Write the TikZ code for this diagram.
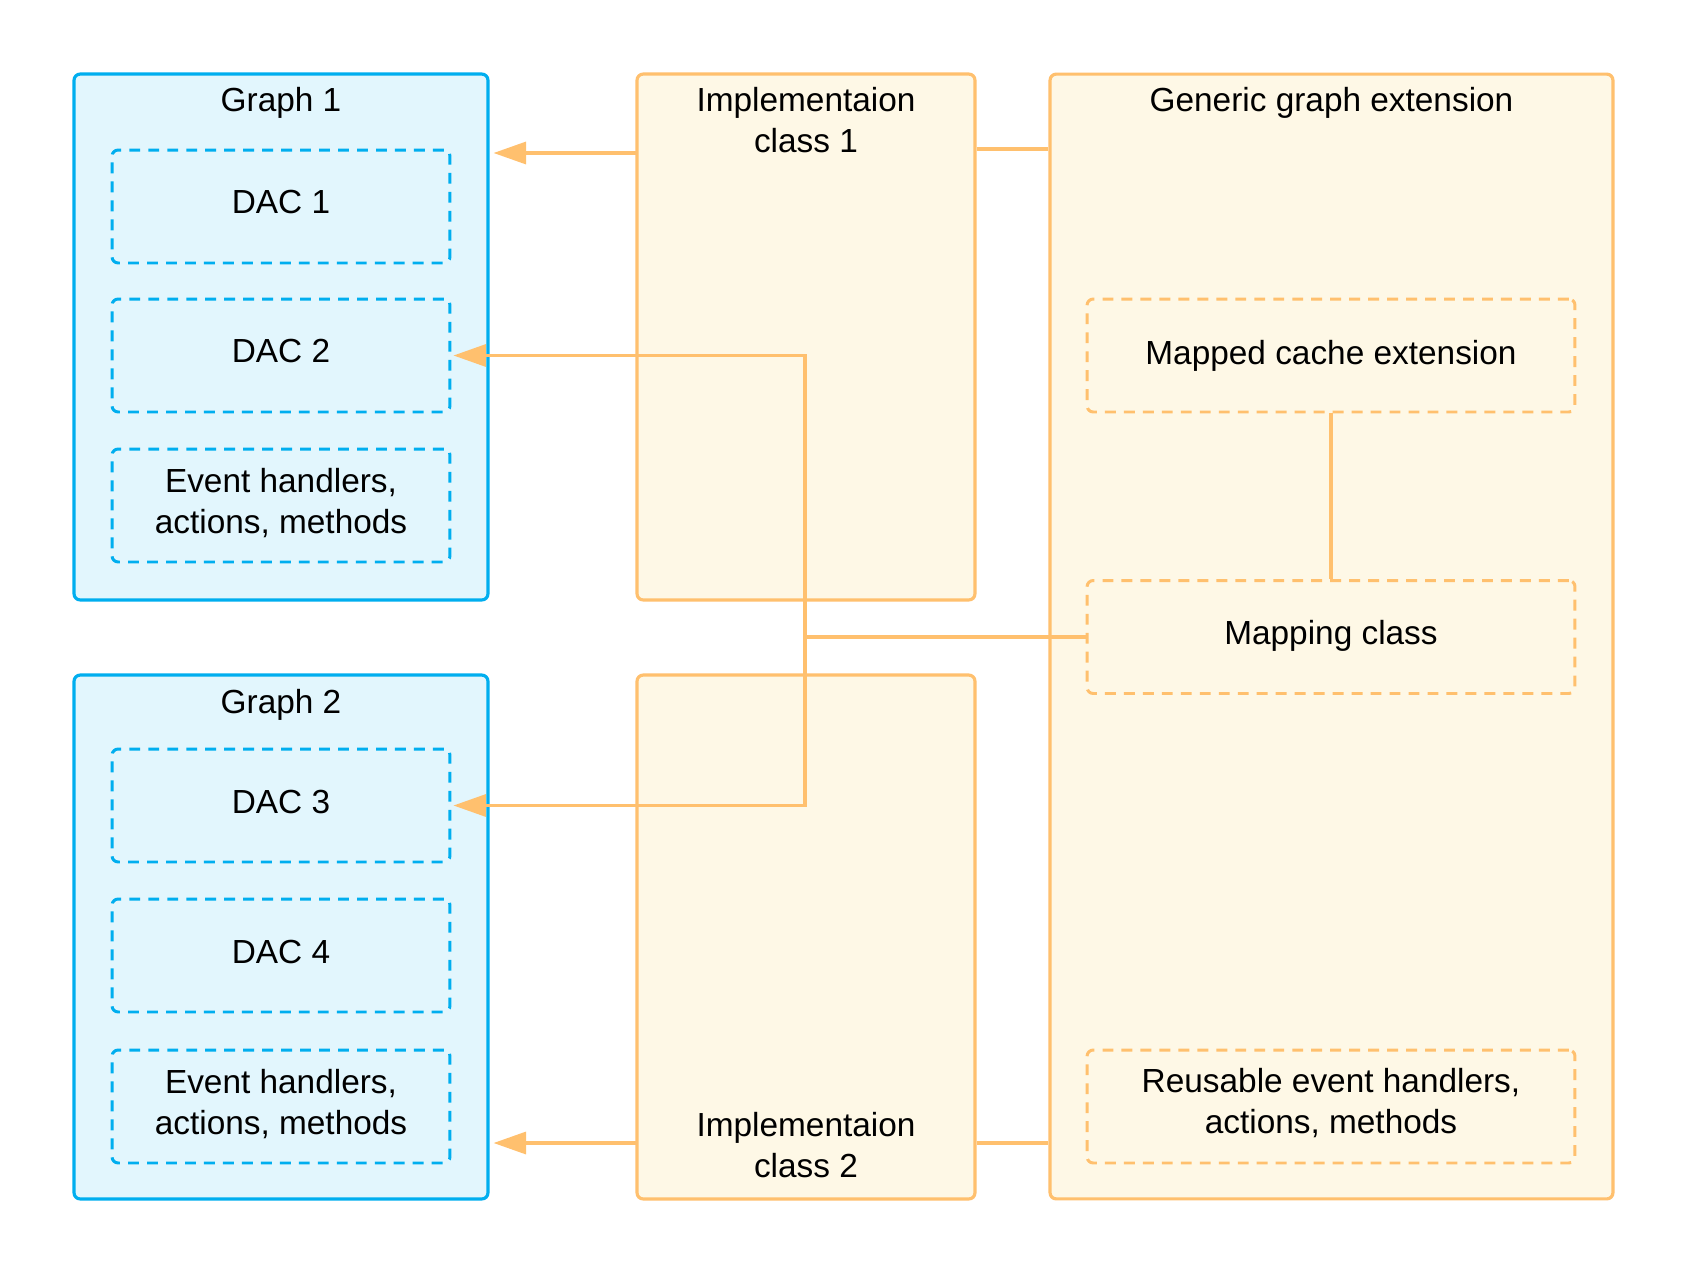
\documentclass[tikz,border=0pt]{standalone}
\usepackage{fontspec}
\setmainfont{Liberation Sans}
\usetikzlibrary{arrows.meta}
\definecolor{bstroke}{HTML}{00AEEF}
\definecolor{bfill}{HTML}{E2F6FD}
\definecolor{ostroke}{HTML}{FFC06E}
\definecolor{ofill}{HTML}{FEF8E6}
\tikzset{
  px/.style={x=0.02cm,y=-0.02cm},
  bluebox/.style={draw=bstroke,fill=bfill,line width=1.8pt,rounded corners=3.5pt,inner sep=0pt},
  orangebox/.style={draw=ostroke,fill=ofill,line width=1.8pt,rounded corners=3.5pt,inner sep=0pt},
  bluedash/.style={draw=bstroke,line width=1.7pt,dash pattern=on 6.2pt off 4.6pt,rounded corners=3.5pt,inner sep=0pt,minimum width=6.76cm,minimum height=2.26cm},
  orangedash/.style={draw=ostroke,line width=1.7pt,dash pattern=on 6.2pt off 4.6pt,rounded corners=3.5pt,inner sep=0pt,minimum width=9.76cm,minimum height=2.26cm},
  lbl/.style={align=center,font=\fontsize{19}{23.6}\selectfont,inner sep=0pt},
  conn/.style={draw=ostroke,line width=1.9pt},
  arr/.style={conn,-{Triangle[length=18.5pt,width=12.5pt]},shorten >=0.08cm},
}
\begin{document}
\begin{tikzpicture}[px]
\path[fill=white] (0,0) rectangle (1688,1275);
\useasboundingbox (0,0) rectangle (1688,1275);
% outer boxes
\node[bluebox,minimum width=8.28cm,minimum height=10.52cm] (g1) at (281,337) {};
\node[bluebox,minimum width=8.28cm,minimum height=10.48cm] (g2) at (281,937) {};
\node[orangebox,minimum width=6.76cm,minimum height=10.52cm] (i1) at (806,337) {};
\node[orangebox,minimum width=6.76cm,minimum height=10.48cm] (i2) at (806,937) {};
\node[orangebox,minimum width=11.26cm,minimum height=22.5cm] (ge) at (1331.5,636.5) {};
% titles
\node[lbl] (g1t) at (281,103) {Graph 1};
\node[lbl] (g2t) at (281,705) {Graph 2};
\node[lbl] (i1t) at (806,120) {Implementaion\\class 1};
\node[lbl] (i2t) at (806,1145) {Implementaion\\class 2};
\node[lbl] (get) at (1331.5,103) {Generic graph extension};
% inner boxes
\node[bluedash] (d1) at (281,206.5) {};
\node[bluedash] (d2) at (281,355.5) {};
\node[bluedash] (e1) at (281,505.5) {};
\node[bluedash] (d3) at (281,805.5) {};
\node[bluedash] (d4) at (281,955.5) {};
\node[bluedash] (e2) at (281,1106.5) {};
\node[orangedash] (mc) at (1331,355.5) {};
\node[orangedash] (mp) at (1331,637) {};
\node[orangedash] (re) at (1331,1106.5) {};
\node[lbl] (d1t) at (281,202.5) {DAC 1};
\node[lbl] (d2t) at (281,351.5) {DAC 2};
\node[lbl] (e1t) at (281,503) {Event handlers,\\actions, methods};
\node[lbl] (d3t) at (281,801.5) {DAC 3};
\node[lbl] (d4t) at (281,951.5) {DAC 4};
\node[lbl] (e2t) at (281,1104) {Event handlers,\\actions, methods};
\node[lbl] (mct) at (1331,355.5) {Mapped cache extension};
\node[lbl] (mpt) at (1331,636) {Mapping class};
\node[lbl] (ret) at (1331,1103) {Reusable event handlers,\\actions, methods};
% connectors
\coordinate (a1) at (637,153);
\coordinate (a2) at (637,1143);
\coordinate (jx) at (805,637);
\draw[arr] (a1) -- (a1 -| g1.east);
\draw[arr] (a2) -- (a2 -| g2.east);
\draw[conn] (i1.east |- 0,149) -- (ge.west |- 0,149);
\draw[conn] (i2.east |- 0,1143) -- (ge.west |- 0,1143);
\draw[conn] (mc.south) -- (mp.north);
\draw[conn] (mp.west) -- (jx);
\draw[arr,shorten >=0.04cm] (jx) |- (d2.east);
\draw[arr,shorten >=0.04cm] (jx) |- (d3.east);
\end{tikzpicture}
\end{document}
